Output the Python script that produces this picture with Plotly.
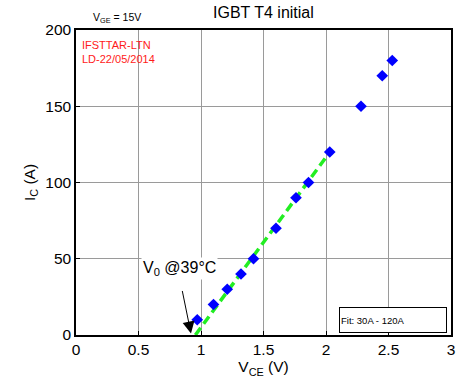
import plotly.graph_objects as go

vce = [0.97, 1.10, 1.21, 1.32, 1.42, 1.60, 1.76, 1.86, 2.03, 2.28, 2.45, 2.53]
ic = [10, 20, 30, 40, 50, 70, 90, 100, 120, 150, 170, 180]
fit_x = [0.955, 2.04]
fit_y = [0, 121]
x_ticks = [0, 0.5, 1, 1.5, 2, 2.5, 3]
x_tick_text = ["0", "0.5", "1", "1.5", "2", "2.5", "3"]
y_ticks = [0, 50, 100, 150, 200]

font = "Liberation Sans, Arial, sans-serif"

fig = go.Figure()
fig.add_trace(go.Scatter(x=fit_x, y=fit_y, mode="lines",
                         line=dict(color="#22ee22", width=3.5, dash="9px,5px"),
                         showlegend=False, cliponaxis=True))
fig.add_trace(go.Scatter(x=vce, y=ic, mode="markers",
                         marker=dict(symbol="diamond", color="#0000ff", size=9),
                         showlegend=False, cliponaxis=False))

axis_common = dict(showgrid=True, gridcolor="#9a9a9a", gridwidth=1,
                   showline=True, linecolor="black", linewidth=1.5, mirror=True,
                   zeroline=False, ticks="inside", ticklen=4, tickcolor="black",
                   tickfont=dict(family=font, size=15.5, color="black"))

fig.update_xaxes(range=[0, 3], tickvals=x_ticks, ticktext=x_tick_text,
                 title=dict(text="V<sub>CE</sub> (V)", font=dict(family=font, size=15.5, color="black"), standoff=2),
                 **axis_common)
fig.update_yaxes(range=[0, 200], tickvals=y_ticks,
                 title=dict(text="I<sub>C</sub> (A)", font=dict(family=font, size=15.5, color="black"), standoff=6),
                 **axis_common)

fig.add_annotation(text="V<sub>0</sub> @39°C", xref="paper", yref="paper",
                   x=(181 - 76.5) / 378.5, y=(335 - 268) / 305, showarrow=False,
                   xanchor="center", yanchor="middle",
                   font=dict(family=font, size=16, color="black"), bgcolor="white")
fig.add_annotation(text="", x=0.92, y=1, xref="x", yref="y",
                   ax=-9, ay=-44, showarrow=True, arrowhead=2, arrowsize=2.4,
                   arrowwidth=1, arrowcolor="black", standoff=0)
fig.add_annotation(text="Fit: 30A - 120A", xref="paper", yref="paper",
                   x=(396 - 76.5) / 378.5, y=(335 - 319.5) / 305, showarrow=False,
                   font=dict(family=font, size=9.5, color="black"),
                   bordercolor="black", borderwidth=1, bgcolor="white",
                   width=104, height=22, xanchor="center", yanchor="middle", align="left")
fig.add_annotation(text="IGBT T4 initial", xref="paper", yref="paper",
                   x=0.5, y=1, yshift=18, showarrow=False, xanchor="center", yanchor="middle",
                   font=dict(family=font, size=16, color="black"))
fig.add_annotation(text="V<sub>GE</sub> = 15V", xref="paper", yref="paper",
                   x=(92 - 76.5) / 378.5, y=1, yshift=12, showarrow=False,
                   xanchor="left", yanchor="middle",
                   font=dict(family=font, size=10.5, color="black"))
fig.add_annotation(text="IFSTTAR-LTN<br>LD-22/05/2014", xref="paper", yref="paper",
                   x=(81 - 76.5) / 378.5, y=(335 - 37) / 305, showarrow=False,
                   xanchor="left", yanchor="top", align="left",
                   font=dict(family=font, size=11, color="#ff1a1a"))

fig.update_layout(width=460, height=382, margin=dict(l=76, r=5, t=30, b=47),
                  paper_bgcolor="white", plot_bgcolor="white")
fig.write_html("out.html")
